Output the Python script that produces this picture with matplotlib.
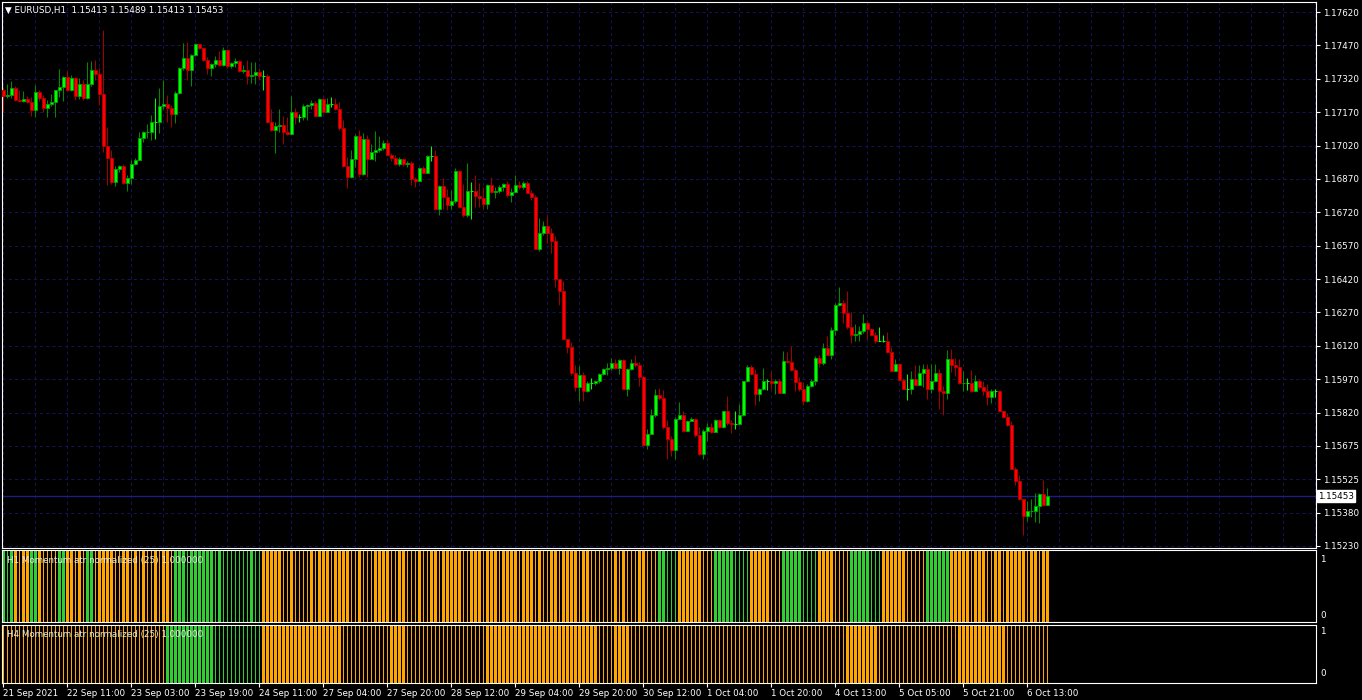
import numpy as np
import matplotlib
matplotlib.use("Agg")
import matplotlib.pyplot as plt
from matplotlib.transforms import blended_transform_factory

# ---- EURUSD H1 candles (21 Sep 2021 19:00 .. 6 Oct 2021), open = previous close
first_open = 1.17271
close = [
    1.17246, 1.17249, 1.17279, 1.17228, 1.17222, 1.17231, 1.17216, 1.17183, 1.17261, 1.17234,
    1.17189, 1.17207, 1.17216, 1.17270, 1.17285, 1.17329, 1.17273, 1.17324, 1.17246, 1.17297,
    1.17237, 1.17297, 1.17359, 1.17341, 1.17255, 1.17019, 1.16968, 1.16858, 1.16918, 1.16930,
    1.16855, 1.16879, 1.16939, 1.16957, 1.17055, 1.17082, 1.17085, 1.17127, 1.17127, 1.17198,
    1.17207, 1.17189, 1.17165, 1.17258, 1.17368, 1.17413, 1.17362, 1.17428, 1.17476, 1.17458,
    1.17407, 1.17371, 1.17389, 1.17407, 1.17383, 1.17449, 1.17377, 1.17392, 1.17401, 1.17356,
    1.17359, 1.17335, 1.17338, 1.17350, 1.17332, 1.17332, 1.17127, 1.17091, 1.17111, 1.17115,
    1.17085, 1.17076, 1.17171, 1.17150, 1.17150, 1.17198, 1.17205, 1.17213, 1.17156, 1.17231,
    1.17174, 1.17210, 1.17210, 1.17186, 1.17100, 1.16932, 1.16882, 1.16962, 1.17067, 1.16894,
    1.17052, 1.16962, 1.16992, 1.17001, 1.17010, 1.17034, 1.16980, 1.16968, 1.16941, 1.16961,
    1.16940, 1.16943, 1.16874, 1.16862, 1.16922, 1.16901, 1.16976, 1.16976, 1.16737, 1.16841,
    1.16794, 1.16755, 1.16776, 1.16907, 1.16749, 1.16710, 1.16820, 1.16820, 1.16797, 1.16788,
    1.16761, 1.16845, 1.16815, 1.16818, 1.16838, 1.16850, 1.16800, 1.16815, 1.16845, 1.16838,
    1.16854, 1.16811, 1.16791, 1.16561, 1.16630, 1.16662, 1.16632, 1.16594, 1.16424, 1.16370,
    1.16155, 1.16119, 1.16003, 1.15943, 1.15994, 1.15923, 1.15958, 1.15958, 1.15967, 1.16000,
    1.16021, 1.16027, 1.16051, 1.16027, 1.16063, 1.15934, 1.16024, 1.16048, 1.16042, 1.15988,
    1.15683, 1.15731, 1.15815, 1.15907, 1.15891, 1.15761, 1.15708, 1.15660, 1.15800, 1.15815,
    1.15746, 1.15788, 1.15797, 1.15726, 1.15642, 1.15743, 1.15761, 1.15740, 1.15794, 1.15761,
    1.15833, 1.15779, 1.15776, 1.15776, 1.15815, 1.15967, 1.16033, 1.16000, 1.15910, 1.15931,
    1.15967, 1.15967, 1.15958, 1.15967, 1.15916, 1.16060, 1.16054, 1.16018, 1.15964, 1.15934,
    1.15880, 1.15946, 1.15967, 1.16072, 1.16048, 1.16116, 1.16086, 1.16197, 1.16307, 1.16316,
    1.16272, 1.16212, 1.16173, 1.16179, 1.16194, 1.16227, 1.16200, 1.16176, 1.16149, 1.16149,
    1.16149, 1.16098, 1.16015, 1.16045, 1.15973, 1.15934, 1.15934, 1.15976, 1.15952, 1.16006,
    1.16021, 1.15931, 1.15967, 1.16003, 1.15923, 1.15914, 1.16066, 1.16039, 1.16033, 1.15958,
    1.15961, 1.15961, 1.15923, 1.15970, 1.15940, 1.15923, 1.15896, 1.15923, 1.15923, 1.15833,
    1.15809, 1.15770, 1.15576, 1.15520, 1.15439, 1.15364, 1.15385, 1.15388, 1.15409, 1.15463,
    1.15413, 1.15453,
]
high = [
    1.17286, 1.17297, 1.17311, 1.17288, 1.17270, 1.17267, 1.17243, 1.17240, 1.17294, 1.17270,
    1.17249, 1.17225, 1.17252, 1.17273, 1.17365, 1.17335, 1.17356, 1.17338, 1.17329, 1.17324,
    1.17317, 1.17398, 1.17401, 1.17407, 1.17371, 1.17541, 1.17106, 1.17001, 1.16930, 1.16935,
    1.16939, 1.16891, 1.16959, 1.16965, 1.17082, 1.17088, 1.17118, 1.17159, 1.17234, 1.17281,
    1.17315, 1.17249, 1.17204, 1.17267, 1.17374, 1.17482, 1.17487, 1.17434, 1.17482, 1.17478,
    1.17461, 1.17419, 1.17392, 1.17422, 1.17446, 1.17464, 1.17455, 1.17398, 1.17416, 1.17407,
    1.17383, 1.17404, 1.17395, 1.17398, 1.17368, 1.17362, 1.17343, 1.17186, 1.17129, 1.17186,
    1.17153, 1.17150, 1.17243, 1.17189, 1.17162, 1.17207, 1.17210, 1.17228, 1.17222, 1.17237,
    1.17237, 1.17234, 1.17240, 1.17234, 1.17216, 1.17138, 1.16971, 1.17001, 1.17073, 1.17093,
    1.17079, 1.17070, 1.17028, 1.17088, 1.17064, 1.17049, 1.17049, 1.16989, 1.16980, 1.16973,
    1.16965, 1.16952, 1.16952, 1.16883, 1.16928, 1.16931, 1.16979, 1.17021, 1.17003, 1.16845,
    1.16877, 1.16829, 1.16824, 1.16922, 1.16913, 1.16850, 1.16946, 1.16859, 1.16892, 1.16856,
    1.16836, 1.16850, 1.16883, 1.16838, 1.16845, 1.16856, 1.16865, 1.16833, 1.16892, 1.16865,
    1.16862, 1.16865, 1.16824, 1.16801, 1.16696, 1.16683, 1.16707, 1.16653, 1.16618, 1.16425,
    1.16418, 1.16158, 1.16143, 1.16039, 1.16036, 1.16009, 1.15967, 1.15982, 1.15973, 1.16006,
    1.16027, 1.16048, 1.16072, 1.16066, 1.16069, 1.16069, 1.16027, 1.16069, 1.16086, 1.16054,
    1.15994, 1.15755, 1.15845, 1.15931, 1.15936, 1.15928, 1.15794, 1.15722, 1.15809, 1.15875,
    1.15836, 1.15794, 1.15809, 1.15803, 1.15764, 1.15752, 1.15779, 1.15779, 1.15800, 1.15800,
    1.15836, 1.15901, 1.15794, 1.15833, 1.15866, 1.15970, 1.16039, 1.16042, 1.16021, 1.15937,
    1.16027, 1.15976, 1.16012, 1.15976, 1.15979, 1.16102, 1.16098, 1.16125, 1.16027, 1.15988,
    1.15964, 1.15955, 1.15976, 1.16081, 1.16086, 1.16137, 1.16170, 1.16212, 1.16316, 1.16388,
    1.16331, 1.16370, 1.16277, 1.16224, 1.16215, 1.16269, 1.16236, 1.16206, 1.16188, 1.16212,
    1.16173, 1.16188, 1.16119, 1.16069, 1.16048, 1.15982, 1.16000, 1.16012, 1.16039, 1.16039,
    1.16045, 1.16045, 1.16045, 1.16045, 1.16021, 1.15946, 1.16107, 1.16111, 1.16072, 1.16069,
    1.16015, 1.15982, 1.16018, 1.15994, 1.15976, 1.15967, 1.15955, 1.15934, 1.15931, 1.15928,
    1.15836, 1.15827, 1.15791, 1.15582, 1.15547, 1.15442, 1.15430, 1.15442, 1.15469, 1.15469,
    1.15526, 1.15489,
]
low = [
    1.17174, 1.17237, 1.17237, 1.17222, 1.17216, 1.17216, 1.17213, 1.17156, 1.17150, 1.17222,
    1.17174, 1.17150, 1.17198, 1.17150, 1.17240, 1.17222, 1.17267, 1.17267, 1.17225, 1.17231,
    1.17228, 1.17231, 1.17288, 1.17315, 1.17204, 1.16992, 1.16846, 1.16852, 1.16843, 1.16905,
    1.16849, 1.16819, 1.16849, 1.16935, 1.16957, 1.17037, 1.17058, 1.17046, 1.17052, 1.17079,
    1.17186, 1.17129, 1.17106, 1.17123, 1.17252, 1.17359, 1.17315, 1.17290, 1.17422, 1.17455,
    1.17401, 1.17344, 1.17335, 1.17374, 1.17380, 1.17377, 1.17371, 1.17368, 1.17374, 1.17353,
    1.17347, 1.17297, 1.17303, 1.17299, 1.17317, 1.17273, 1.17123, 1.17088, 1.16989, 1.17085,
    1.17031, 1.17070, 1.17073, 1.17118, 1.17127, 1.17138, 1.17138, 1.17186, 1.17153, 1.17153,
    1.17168, 1.17171, 1.17195, 1.17180, 1.17093, 1.16927, 1.16834, 1.16879, 1.16927, 1.16882,
    1.16891, 1.16882, 1.16962, 1.16953, 1.16995, 1.17001, 1.16977, 1.16953, 1.16935, 1.16931,
    1.16931, 1.16925, 1.16847, 1.16838, 1.16862, 1.16898, 1.16898, 1.16955, 1.16734, 1.16710,
    1.16740, 1.16734, 1.16740, 1.16767, 1.16743, 1.16704, 1.16704, 1.16692, 1.16749, 1.16749,
    1.16740, 1.16740, 1.16809, 1.16788, 1.16809, 1.16820, 1.16794, 1.16770, 1.16811, 1.16829,
    1.16829, 1.16809, 1.16779, 1.16558, 1.16552, 1.16623, 1.16588, 1.16543, 1.16388, 1.16307,
    1.16155, 1.16093, 1.15997, 1.15923, 1.15880, 1.15880, 1.15919, 1.15931, 1.15949, 1.15958,
    1.15997, 1.15997, 1.16018, 1.16024, 1.16000, 1.15931, 1.15901, 1.16018, 1.16033, 1.15946,
    1.15678, 1.15666, 1.15735, 1.15806, 1.15884, 1.15752, 1.15618, 1.15633, 1.15618, 1.15800,
    1.15740, 1.15755, 1.15788, 1.15719, 1.15639, 1.15618, 1.15701, 1.15735, 1.15740, 1.15758,
    1.15758, 1.15773, 1.15737, 1.15752, 1.15770, 1.15812, 1.15964, 1.15997, 1.15860, 1.15880,
    1.15928, 1.15928, 1.15931, 1.15910, 1.15914, 1.15914, 1.16051, 1.16015, 1.15923, 1.15923,
    1.15863, 1.15875, 1.15943, 1.15949, 1.16030, 1.16042, 1.16084, 1.16066, 1.16173, 1.16304,
    1.16230, 1.16203, 1.16137, 1.16146, 1.16149, 1.16185, 1.16155, 1.16173, 1.16137, 1.16146,
    1.16143, 1.16095, 1.16012, 1.16012, 1.15970, 1.15931, 1.15884, 1.15910, 1.15949, 1.15952,
    1.15943, 1.15889, 1.15914, 1.15964, 1.15845, 1.15818, 1.15887, 1.16009, 1.15991, 1.15955,
    1.15923, 1.15928, 1.15919, 1.15934, 1.15934, 1.15907, 1.15863, 1.15869, 1.15896, 1.15830,
    1.15803, 1.15767, 1.15573, 1.15502, 1.15436, 1.15278, 1.15343, 1.15359, 1.15338, 1.15334,
    1.15409, 1.15413,
]

price_ticks = ["1.15230", "1.15380", "1.15525", "1.15675", "1.15820", "1.15970", "1.16120",
               "1.16270", "1.16420", "1.16570", "1.16720", "1.16870", "1.17020", "1.17170",
               "1.17320", "1.17470", "1.17620"]
time_labels = ["21 Sep 2021", "22 Sep 11:00", "23 Sep 03:00", "23 Sep 19:00", "24 Sep 11:00",
               "27 Sep 04:00", "27 Sep 20:00", "28 Sep 12:00", "29 Sep 04:00", "29 Sep 20:00",
               "30 Sep 12:00", "1 Oct 04:00", "1 Oct 20:00", "4 Oct 13:00", "5 Oct 05:00",
               "5 Oct 21:00", "6 Oct 13:00"]
last_price = 1.15453

# momentum states: G strong up, g weak up, O strong down, o weak down (run lengths)
h1_runs = [("G", 1), ("g", 1), ("G", 1), ("O", 1), ("o", 1), ("O", 2), ("G", 2), ("O", 1), ("o", 4),
           ("G", 2), ("O", 2), ("o", 1), ("O", 1), ("o", 1), ("G", 2), ("o", 1), ("O", 4), ("o", 2),
           ("O", 2), ("o", 1), ("O", 1), ("o", 1), ("O", 1), ("o", 2), ("O", 1), ("o", 1), ("O", 2),
           ("o", 1), ("G", 3), ("g", 1), ("G", 6), ("g", 1), ("G", 1), ("g", 7), ("G", 1), ("g", 2),
           ("O", 5), ("o", 2), ("O", 1), ("o", 4), ("O", 1), ("o", 1), ("O", 3), ("o", 1), ("O", 4),
           ("o", 2), ("O", 1), ("o", 3), ("O", 4), ("o", 2), ("O", 2), ("o", 3), ("O", 1), ("o", 2),
           ("O", 2), ("o", 1), ("O", 5), ("o", 2), ("O", 3), ("o", 1), ("O", 3), ("o", 1), ("O", 4),
           ("o", 1), ("O", 2),
           ("O", 1), ("o", 1), ("O", 1), ("o", 2), ("O", 2), ("o", 1), ("O", 4), ("o", 1), ("O", 2),
           ("o", 6), ("O", 1), ("o", 1), ("O", 1), ("o", 3), ("O", 2), ("o", 3), ("G", 2), ("g", 3),
           ("O", 6), ("o", 3), ("G", 5), ("g", 4), ("O", 5), ("o", 3), ("G", 5), ("g", 4), ("O", 4),
           ("o", 4), ("G", 5), ("g", 3), ("O", 6), ("o", 5), ("G", 6), ("O", 5), ("o", 1), ("O", 3),
           ("o", 2), ("O", 2), ("o", 1), ("O", 5), ("o", 1), ("O", 2), ("o", 1), ("O", 2)]
h4_runs = [("o", 41), ("G", 12), ("g", 12), ("O", 20), ("o", 12), ("O", 4), ("o", 20), ("O", 28),
           ("o", 4), ("O", 4), ("o", 54), ("O", 8), ("o", 20), ("O", 12), ("o", 11)]

W, H = 1362, 700
fig = plt.figure(figsize=(W / 100, H / 100), dpi=100, facecolor="black")
GRID = "#131355"
FS = 6.3


def panel(x0, y0, x1, y1):
    ax = fig.add_axes([x0 / W, 1 - y1 / H, (x1 - x0) / W, (y1 - y0) / H])
    ax.set_facecolor("black")
    for s in ax.spines.values():
        s.set_color("white")
        s.set_linewidth(0.8)
    ax.set_xlim(-0.33, -0.33 + (x1 - x0) / 4.0)
    ax.set_xticks([])
    ax.set_yticks([])
    return ax


ax = panel(2, 2, 1316, 548)
ax.set_ylim(1.15221, 1.17665)

c = np.array(close)
h = np.array(high)
l = np.array(low)
o = np.r_[first_open, c[:-1]]
x = np.arange(len(c))
up = c > o
dn = c < o
eq = c == o

# grid
for p in np.linspace(1.15230, 1.17620, 17):
    ax.axhline(p, color=GRID, lw=0.75, ls=(0, (3, 3)), zorder=0)
for k in range(0, 330, 8):
    ax.axvline(k, color=GRID, lw=0.75, ls=(0, (3, 3)), zorder=0)
ax.axhline(last_price, color="#1e1e80", lw=1.0, zorder=1)

ax.vlines(x[up], l[up], h[up], color="#008a00", lw=0.75, zorder=2)
ax.vlines(x[dn], l[dn], h[dn], color="#a00000", lw=0.75, zorder=2)
ax.vlines(x[eq], l[eq], h[eq], color="#00ff00", lw=0.75, zorder=2)
ax.bar(x[up], (c - o)[up], bottom=o[up], width=0.72, color="#00ff00",
       edgecolor="#00a000", lw=0.7, zorder=3)
ax.bar(x[dn], (o - c)[dn], bottom=c[dn], width=0.72, color="#ff0000",
       edgecolor="#b00000", lw=0.7, zorder=3)
ax.hlines(c[eq], x[eq] - 0.38, x[eq] + 0.38, color="#00ff00", lw=0.8, zorder=3)

ax.yaxis.tick_right()
ax.set_yticks(np.linspace(1.15230, 1.17620, 17))
ax.set_yticklabels(price_ticks)
ax.tick_params(axis="y", colors="white", labelsize=FS, length=3, width=0.8, pad=2)

ytr = blended_transform_factory(ax.transAxes, ax.transData)
ax.text(1.0015, last_price, "1.15453", transform=ytr, fontsize=FS, color="black",
        va="center", ha="left",
        bbox=dict(boxstyle="square,pad=0.15", fc="white", ec="white"))

fig.text(5 / W, 1 - 10 / H, "\u25BC EURUSD,H1  1.15413 1.15489 1.15413 1.15453",
         color="white", fontsize=FS, va="center", ha="left")

colors = {"G": "#32cd32", "g": "#32cd32", "O": "#ffa500", "o": "#ffa500"}


def draw_states(axi, runs):
    st = "".join(s * n for s, n in runs)
    for k, s in enumerate(st):
        if s in "GO":
            axi.bar(k, 1, width=0.75, bottom=0, color=colors[s], lw=0)
        else:
            axi.vlines(k, 0, 1, color=colors[s], lw=0.75)
    axi.set_ylim(0, 1)


a1 = panel(2, 550, 1316, 622)
draw_states(a1, h1_runs)
a2 = panel(2, 624.5, 1316, 683)
draw_states(a2, h4_runs)

fig.text(7 / W, 1 - 561 / H, "H1 Momentum atr normalized (25) 1.000000", color="#e8e8e8",
         fontsize=FS, va="center", ha="left")
fig.text(7 / W, 1 - 634 / H, "H4 Momentum atr normalized (25) 1.000000", color="#e8e8e8",
         fontsize=FS, va="center", ha="left")
for txt, yy in [("1", 559), ("0", 615), ("1", 632), ("0", 673)]:
    fig.text(1320 / W, 1 - yy / H, txt, color="white", fontsize=FS, va="center", ha="left")

a2.set_xticks(np.arange(len(time_labels)) * 16)
a2.set_xticklabels(time_labels, ha="left")
a2.tick_params(axis="x", colors="white", labelsize=FS, length=3, width=0.8, pad=1)

fig.savefig("out.png", dpi=100, facecolor="black")
